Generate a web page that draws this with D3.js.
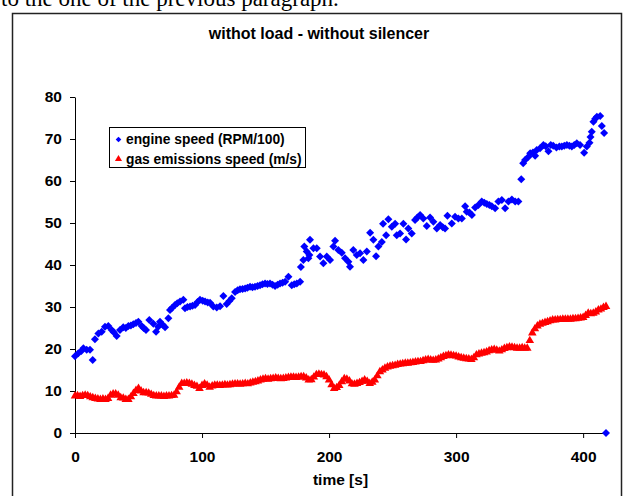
<!DOCTYPE html>
<html><head><meta charset="utf-8">
<script src="https://cdn.jsdelivr.net/npm/d3@7/dist/d3.min.js"></script>
<style>body{margin:0;background:#fff;}svg{display:block;}</style>
</head><body>
<svg id="chart" width="623" height="496"></svg>
<script>
// ---- data ----
const title = "withot load - without silencer";
const xLabel = "time [s]";
const seriesNames = ["engine speed (RPM/100)", "gas emissions speed (m/s)"];
const xTicks = [0, 100, 200, 300, 400];
const yTicks = [0, 10, 20, 30, 40, 50, 60, 70, 80];

// engine speed (RPM/100): [time s, value]
const engineTime = [0,2.6,5,6.6,9.2,11.8,13.9,15.7,18.4,21,23.6,26.2,28.9,30.5,32.8,35.4,38,40,42,44,45.9,48,49.9,52.5,54,55.9,58.5,61.7,63.8,65.5,66.9,69,70.9,73.5,74.8,76.5,78.7,80.5,82.7,85.3,86.6,88.5,90.6,92.5,94.5,96.5,98.4,100.5,102.4,104.5,106.3,108.9,111.6,114.2,116.8,119.4,121.5,123.4,126,128,129.9,131.9,133.9,135.8,137.8,139.7,141.7,143.7,145.7,147.6,149.6,151.5,153.5,155.5,157.5,159.5,161.4,163.4,165.4,168,170.6,172.6,174.6,177.2,177.8,179.8,180.5,182.4,183.7,184.5,185,187.7,190.3,192.9,195.5,198.2,200.8,203.4,204.7,207.3,210,212.6,215.2,216.5,219.1,221.8,224.4,227,229.7,232.3,234.9,237,238.8,241.5,242.5,244.9,246.7,249.4,252,253.3,255.9,258.5,260.6,262.4,265.1,267.7,269.5,271.7,274.2,276.9,279.5,282.1,284.8,287.4,289.5,291.3,293.2,296.6,299.2,301.8,304.5,307.1,308.4,310.5,312.4,315,317.6,320.2,322.2,324.2,326.2,328.1,330.7,333.3,336,338.6,341.2,343.9,346.5,349,351.3,352.8,354.3,357,358.3,360.5,362.2,363.5,366.1,368.7,370.5,372.7,374.5,376.5,379,381.3,383.2,385.2,387.2,389.2,391.1,393,395,397.6,400.8,402.9,405,405.8,406.8,408.1,409.5,410.8,413.4,414.7,416.5,418];
const engineSpeed = [18.3,19,19.5,20.2,19.8,19.8,17.4,22.3,23.7,24.1,25.3,25.5,24.5,24.0,23.1,24.5,25.2,25.0,25.5,25.6,25.9,26.2,26.5,25.5,25.0,24.5,26.9,26,24.1,25.3,26.5,25.8,25.2,27.3,29.3,29.8,30.5,30.9,31.3,31.7,29.7,30.0,30.1,30.3,30.5,31.2,31.7,31.5,31.3,31.1,31,30.1,29.9,30.2,32.6,30.7,31.4,32.1,33.6,34.0,34.2,34.3,34.4,34.6,34.8,34.7,34.8,35.0,35.2,35.4,35.6,35.5,35.6,35.3,35,35.3,35.6,35.8,36,37.2,35.2,35.4,35.6,36,39.5,41.2,44.4,43.2,41.6,42.4,46,44,44,42,40.4,42,41.2,44.4,45.8,43.6,42.9,41.6,40.8,39.6,43.6,42.4,42.8,41.2,43.2,47.7,46,42.1,44.4,45.5,49.8,47.1,50.9,49.1,49.8,47.1,47.5,49.8,46.1,48.7,47.5,50.7,51.3,51.9,51.1,49.3,51.3,50.3,48.7,49.5,49.0,48.7,51.7,49.9,51.5,51.1,51.1,54,52.7,52.5,51.9,53.7,54.3,55.1,54.8,54.5,54.3,54,53.5,55.1,55.5,53.5,55.1,55.6,55.1,55.1,60.4,64.2,65,65.8,66.6,66.8,66,67.4,67.8,68.6,68.3,67.1,68.6,68.4,68.0,68.2,68.2,68.4,68.6,68.4,68.2,68.6,69,68.6,66.7,68.2,69.1,70.5,71.7,74.1,74.8,75.3,75.5,73.1,71.4,0];

// gas emissions speed (m/s), sampled every 2 s from t = 0
const gasInterval = 2;
const gasSpeed = [8.8,8.9,8.7,8.9,9.0,8.9,8.6,8.4,8.2,8.1,8.0,8.1,8.0,8.2,9.0,9.3,9.3,9.0,8.4,8.3,8.0,8.0,8.6,9.4,10.1,10.6,10.0,9.6,9.6,9.5,9.2,8.9,8.8,8.8,8.8,8.7,8.8,8.8,8.9,9.0,9.8,10.9,11.8,11.8,11.9,11.8,11.6,11.3,11.1,10.6,11.3,11.7,11.4,10.9,11.2,11.4,11.4,11.3,11.4,11.5,11.4,11.5,11.6,11.7,11.7,11.6,11.7,11.8,11.7,11.9,12.1,12.2,12.4,12.6,12.8,12.9,12.8,12.9,13.0,13.1,13.0,12.9,13.0,13.1,13.2,13.3,13.3,13.2,13.3,13.4,13.4,13.1,12.6,12.7,13.3,13.9,14.0,13.9,13.8,13.4,12.6,11.5,10.6,10.8,11.3,12.2,12.9,12.8,12.4,11.7,11.6,11.8,12.0,12.3,12.6,12.3,11.8,12.1,12.6,13.6,14.6,15.0,15.4,15.7,15.9,16.0,16.1,16.3,16.4,16.5,16.6,16.6,16.7,16.8,16.9,17.0,17.0,17.2,17.4,17.5,17.4,17.3,17.4,17.6,17.9,18.2,18.4,18.6,18.5,18.4,18.3,18.1,17.9,17.8,17.7,17.6,17.5,17.9,18.6,18.8,19.0,19.1,19.3,19.6,19.8,19.9,19.7,19.5,19.8,20.1,20.3,20.5,20.4,20.3,20.2,20.2,20.3,20.2,20.2,22.0,23.8,24.8,25.5,25.9,26.1,26.3,26.5,26.7,26.9,26.9,27.0,27.0,27.1,27.1,27.1,27.1,27.2,27.2,27.3,27.4,27.5,28.0,28.5,28.4,28.5,28.8,29.3,29.5,29.9,30.1];

const engineData = engineTime.map((t, i) => ({t, v: engineSpeed[i]}));
const gasData = gasSpeed.map((v, i) => ({t: i * gasInterval, v}));

// ---- layout ----
const svg = d3.select("#chart");
const FONT = "'Liberation Sans', Arial, sans-serif";
const plotLeft = 75, plotRight = 606, plotTop = 97, plotBottom = 433;
const x = d3.scaleLinear().domain([0, 418]).range([plotLeft, plotRight]);
const y = d3.scaleLinear().domain([0, 80]).range([plotBottom, plotTop]);

svg.append("rect").attr("width", 623).attr("height", 496).attr("fill", "#fff");

// document text above the chart (cut off at the top edge, as in the reference)
svg.append("text").attr("x", 1).attr("y", 6)
  .attr("font-family", "'Liberation Serif', 'Times New Roman', serif")
  .attr("font-size", 23).attr("fill", "#000")
  .text("to the one of the previous paragraph.");

// chart frame
svg.append("rect").attr("x", 12.5).attr("y", 13.5).attr("width", 609).attr("height", 500)
  .attr("fill", "#fff").attr("stroke", "#222").attr("stroke-width", 1.5);

// title
svg.append("text").attr("x", 319).attr("y", 39).attr("text-anchor", "middle")
  .attr("font-family", FONT).attr("font-weight", "bold").attr("font-size", 16)
  .text(title);

// axes
const xAxis = d3.axisBottom(x).tickValues(xTicks).tickSize(5).tickSizeOuter(0).tickPadding(13);
const yAxis = d3.axisLeft(y).tickValues(yTicks).tickSize(5).tickSizeOuter(0).tickPadding(8);
const gx = svg.append("g").attr("transform", `translate(0,${plotBottom})`).call(xAxis);
const gy = svg.append("g").attr("transform", `translate(${plotLeft},0)`).call(yAxis);
[gx, gy].forEach(g => {
  g.select(".domain").attr("stroke", "#000");
  g.selectAll(".tick line").attr("stroke", "#000");
  g.selectAll(".tick text").attr("font-family", FONT).attr("font-weight", "bold")
    .attr("font-size", 15.5).attr("fill", "#000");
});

svg.append("text").attr("x", (plotLeft + plotRight) / 2).attr("y", 485).attr("text-anchor", "middle")
  .attr("font-family", FONT).attr("font-weight", "bold").attr("font-size", 15.5)
  .text(xLabel);

// series
const diamond = d3.symbol().type(d3.symbolSquare).size(32)();
const tri = d3.symbol().type(d3.symbolTriangle).size(32)();

svg.append("g").selectAll("path").data(gasData).join("path")
  .attr("d", tri).attr("fill", "#ff0000")
  .attr("transform", d => `translate(${x(d.t)},${y(d.v)})`);

svg.append("g").selectAll("path").data(engineData).join("path")
  .attr("d", diamond).attr("fill", "#0000ff")
  .attr("transform", d => `translate(${x(d.t)},${y(d.v)}) rotate(45)`);

// legend
const lg = svg.append("g");
lg.append("rect").attr("x", 109.5).attr("y", 127.5).attr("width", 196).attr("height", 40)
  .attr("fill", "#fff").attr("stroke", "#000").attr("stroke-width", 1);
lg.append("path").attr("d", d3.symbol().type(d3.symbolSquare).size(16)())
  .attr("fill", "#0000ff").attr("transform", "translate(118.5,139.5) rotate(45)");
lg.append("path").attr("d", d3.symbol().type(d3.symbolTriangle).size(22)())
  .attr("fill", "#ff0000").attr("transform", "translate(118.5,159)");
lg.selectAll("text.lt").data(seriesNames).join("text").attr("class", "lt")
  .attr("x", 126).attr("y", (d, i) => 139.5 + i * 19.5).attr("dy", "0.35em")
  .attr("font-family", FONT).attr("font-weight", "bold").attr("font-size", 13.8)
  .text(d => d);
</script>
</body></html>
